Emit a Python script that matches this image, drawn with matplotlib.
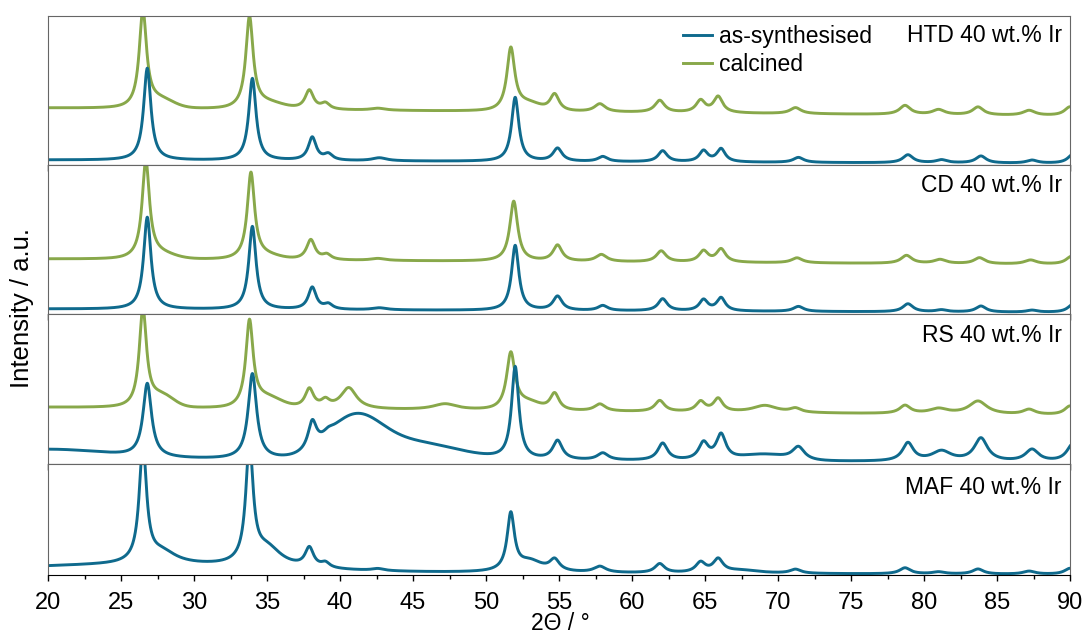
import numpy as np
import matplotlib.pyplot as plt
from matplotlib.ticker import MultipleLocator

plt.rcParams['font.family'] = ['Liberation Sans', 'DejaVu Sans']

BLUE = '#0f6a8d'
GREEN = '#88a84a'

two_theta = np.arange(20, 90.001, 0.02)

# each pattern: linear background (at 20 and 90 deg), Lorentzian reflections
# (position, height, FWHM) and broad Gaussian contributions (position, height, sigma)

# HTD 40 wt.% Ir
htd_as_base = (5, 1.5)
htd_as_pos = [26.8, 34.0, 38.1, 39.2, 42.7, 52.0, 54.9, 58.0, 62.1, 64.9, 66.1, 71.4, 78.9, 81.2, 83.9, 87.4, 90.2]
htd_as_height = [92, 82, 23, 6, 3, 64, 13, 5, 11, 11, 13, 5, 8, 3, 7, 3, 9]
htd_as_fwhm = [0.6, 0.6, 0.65, 0.7, 1.2, 0.6, 0.75, 0.8, 0.75, 0.7, 0.7, 0.85, 0.85, 0.9, 0.85, 0.9, 0.85]

htd_calc_base = (57, 49)
htd_calc_pos = [26.5, 33.8, 37.9, 39.0, 42.6, 51.7, 54.7, 57.8, 61.9, 64.7, 65.9, 71.2, 78.7, 81.0, 83.7, 87.2, 90.0]
htd_calc_height = [96, 90, 19, 6, 2, 62, 17, 8, 12, 12, 16, 6, 9, 5, 8, 5, 9]
htd_calc_fwhm = [0.6, 0.6, 0.7, 0.7, 1.2, 0.65, 0.75, 0.9, 0.8, 0.75, 0.75, 0.9, 0.9, 1.0, 0.9, 1.0, 0.9]
htd_calc_broad_pos = [27.7, 35.0, 52.9]
htd_calc_broad_height = [8, 6, 7]
htd_calc_broad_sigma = [0.9, 1.1, 0.8]

# CD 40 wt.% Ir
cd_as_base = (5, 1.5)
cd_as_pos = [26.8, 34.0, 38.1, 39.2, 42.7, 52.0, 54.9, 58.0, 62.1, 64.9, 66.1, 71.4, 78.9, 81.2, 83.9, 87.4, 90.2]
cd_as_height = [92, 83, 22, 5, 2, 65, 14, 5, 12, 11, 13, 5, 8, 2, 6, 2, 8]
cd_as_fwhm = [0.6, 0.6, 0.65, 0.7, 1.2, 0.6, 0.75, 0.8, 0.75, 0.7, 0.7, 0.85, 0.85, 0.9, 0.85, 0.9, 0.85]

cd_calc_base = (55, 49.5)
cd_calc_pos = [26.7, 33.9, 38.0, 39.1, 42.6, 51.9, 54.9, 57.9, 62.0, 64.9, 66.1, 71.3, 78.8, 81.1, 83.8, 87.3, 90.1]
cd_calc_height = [96, 85, 20, 5, 2, 60, 16, 7, 11, 11, 13, 5, 8, 4, 6, 4, 8]
cd_calc_fwhm = [0.6, 0.6, 0.7, 0.7, 1.2, 0.65, 0.75, 0.9, 0.8, 0.75, 0.75, 0.9, 0.9, 1.0, 0.9, 1.0, 0.9]
cd_calc_broad_pos = [27.6, 34.8]
cd_calc_broad_height = [5, 4]
cd_calc_broad_sigma = [1.0, 1.0]

# RS 40 wt.% Ir
rs_as_base = (5, 1)
rs_as_pos = [26.8, 34.0, 38.1, 39.2, 52.0, 54.9, 58.0, 62.1, 64.9, 66.1, 71.4, 78.9, 81.2, 83.9, 87.4, 90.2]
rs_as_height = [73, 85, 27, 4, 92, 19, 7, 17, 17, 25, 13, 18, 10, 23, 12, 18]
rs_as_fwhm = [0.7, 0.7, 0.7, 0.8, 0.6, 0.8, 0.9, 0.8, 0.8, 0.8, 1.0, 0.9, 1.6, 1.1, 1.1, 1.0]
rs_as_broad_pos = [20.0, 41.0, 45.0, 69.0]
rs_as_broad_height = [9, 38, 17, 6]
rs_as_broad_sigma = [4.0, 1.8, 3.0, 1.5]

rs_calc_base = (56, 48)
rs_calc_pos = [26.5, 33.8, 37.9, 39.0, 40.6, 47.2, 51.7, 54.7, 57.8, 61.9, 64.7, 65.9, 69.1, 71.2, 78.7, 81.0, 83.7, 87.2, 90.0]
rs_calc_height = [97, 84, 19, 7, 21, 6, 56, 17, 7, 11, 10, 13, 7, 4, 8, 5, 13, 5, 9]
rs_calc_fwhm = [0.6, 0.6, 0.7, 0.7, 1.3, 2.0, 0.7, 0.75, 0.9, 0.8, 0.75, 0.75, 2.0, 0.9, 0.9, 1.5, 1.5, 1.0, 0.9]
rs_calc_broad_pos = [27.8, 35.0, 52.9]
rs_calc_broad_height = [11, 10, 7]
rs_calc_broad_sigma = [0.8, 1.0, 0.8]

# MAF 40 wt.% Ir
maf_as_base = (3, 0.5)
maf_as_pos = [26.5, 27.8, 33.8, 35.0, 37.9, 39.0, 42.6, 51.7, 53.0, 54.7, 57.8, 61.9, 64.7, 65.9, 67.5, 71.2, 78.7, 81.0, 83.7, 87.2, 90.0]
maf_as_height = [115, 12, 115, 19, 19, 5, 2, 56, 11, 11, 6, 9, 10, 13, 3, 4, 6, 2, 5, 3, 6]
maf_as_fwhm = [0.6, 2.4, 0.6, 2.4, 0.7, 0.7, 1.0, 0.6, 2.2, 0.8, 1.0, 0.8, 0.8, 0.8, 3.0, 0.9, 0.9, 1.0, 0.9, 1.0, 0.9]
maf_as_broad_pos = [26.0]
maf_as_broad_height = [7]
maf_as_broad_sigma = [9.0]

panel_labels = ['HTD 40 wt.% Ir', 'CD 40 wt.% Ir', 'RS 40 wt.% Ir', 'MAF 40 wt.% Ir']
panel_ymax = [149, 149, 149, 111]


def pattern(base, pos, height, fwhm, broad_pos=(), broad_height=(), broad_sigma=()):
    y = base[0] + (base[1] - base[0]) * (two_theta - 20) / 70
    for p, h, w in zip(pos, height, fwhm):
        g = (w / 2) ** 2
        y = y + h * g / ((two_theta - p) ** 2 + g)
    for p, h, s in zip(broad_pos, broad_height, broad_sigma):
        y = y + h * np.exp(-(two_theta - p) ** 2 / (2 * s ** 2))
    return y


panels = [
    (pattern(htd_as_base, htd_as_pos, htd_as_height, htd_as_fwhm),
     pattern(htd_calc_base, htd_calc_pos, htd_calc_height, htd_calc_fwhm,
             htd_calc_broad_pos, htd_calc_broad_height, htd_calc_broad_sigma)),
    (pattern(cd_as_base, cd_as_pos, cd_as_height, cd_as_fwhm),
     pattern(cd_calc_base, cd_calc_pos, cd_calc_height, cd_calc_fwhm,
             cd_calc_broad_pos, cd_calc_broad_height, cd_calc_broad_sigma)),
    (pattern(rs_as_base, rs_as_pos, rs_as_height, rs_as_fwhm,
             rs_as_broad_pos, rs_as_broad_height, rs_as_broad_sigma),
     pattern(rs_calc_base, rs_calc_pos, rs_calc_height, rs_calc_fwhm,
             rs_calc_broad_pos, rs_calc_broad_height, rs_calc_broad_sigma)),
    (pattern(maf_as_base, maf_as_pos, maf_as_height, maf_as_fwhm,
             maf_as_broad_pos, maf_as_broad_height, maf_as_broad_sigma), None),
]

fig = plt.figure(figsize=(10.84, 6.37), dpi=100)
left, width = 48 / 1084, 1022 / 1084
edges = [16, 165, 314, 463.5, 575]
label_offsets = [19, 21, 21, 24]

axes = []
for i, ((as_syn, calc), label, ymax) in enumerate(zip(panels, panel_labels, panel_ymax)):
    top, bottom = edges[i], edges[i + 1]
    ax = fig.add_axes([left, 1 - bottom / 637, width, (bottom - top) / 637])
    if calc is not None:
        ax.plot(two_theta, calc, color=GREEN, lw=2.1, label='calcined')
    ax.plot(two_theta, as_syn, color=BLUE, lw=2.1, label='as-synthesised')
    ax.set_xlim(20, 90)
    ax.set_ylim(0, ymax)
    ax.set_yticks([])
    ax.xaxis.set_major_locator(MultipleLocator(5))
    ax.xaxis.set_minor_locator(MultipleLocator(2.5))
    ax.tick_params(axis='x', which='major', direction='out', length=4, width=1,
                   labelsize=17, pad=8)
    ax.tick_params(axis='x', which='minor', direction='out', length=3, width=1)
    if i < 3:
        ax.tick_params(axis='x', labelbottom=False)
    for side in ['left', 'right', 'top']:
        ax.spines[side].set_color('#666666')
    ax.spines['bottom'].set_color('black')
    label_y = 1 - label_offsets[i] / (bottom - top)
    ax.text(0.992, label_y, label, transform=ax.transAxes, ha='right', va='center', fontsize=16.5)
    axes.append(ax)

handles, labels = axes[0].get_legend_handles_labels()
axes[0].legend(handles[::-1], labels[::-1], loc='upper left', bbox_to_anchor=(0.621, 0.94),
               frameon=False, fontsize=16.5, borderpad=0, borderaxespad=0,
               handlelength=1.3, handletextpad=0.3, labelspacing=0.2)

fig.text(560 / 1084, 1 - 624 / 637, '2\u0398 / \u00b0', ha='center', va='center', fontsize=16.5)
fig.text(22 / 1084, 1 - 308 / 637, 'Intensity / a.u.', rotation=90, ha='center', va='center',
         fontsize=18.5)

fig.savefig('out.png', dpi=100)
